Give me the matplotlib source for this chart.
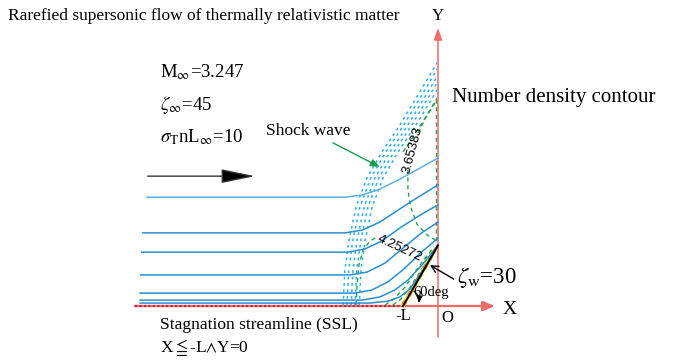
import matplotlib.pyplot as plt
from matplotlib.patches import Rectangle

plt.rcParams['font.family'] = ['Liberation Serif', 'DejaVu Serif']
plt.rcParams['mathtext.fontset'] = 'stix'

# all lengths in units of L (wedge base), origin O on the wedge back face
# streamlines coming from the left
stream_x = [
    [-8.31, -2.66, -2.17, -1.66, -1.14, -0.57, 0.0],
    [-8.43, -2.66, -2.17, -1.66, -1.14, -0.57, 0.0],
    [-8.46, -2.57, -2.09, -1.60, -1.09, -0.51, 0.0],
    [-8.49, -2.51, -2.03, -1.51, -1.03, -0.51, 0.0],
    [-8.51, -2.37, -1.89, -1.43, -0.97, -0.51, 0.0],
    [-8.51, -2.17, -1.66, -1.23, -0.86, -0.46, -0.06],
    [-8.51, -1.94, -1.43, -1.09, -0.80, -0.37, -0.03],
]
stream_y = [
    [3.11, 3.11, 3.17, 3.34, 3.60, 3.91, 4.23],
    [2.09, 2.09, 2.17, 2.40, 2.74, 3.11, 3.46],
    [1.54, 1.54, 1.63, 1.86, 2.23, 2.60, 2.89],
    [0.89, 0.89, 0.97, 1.23, 1.63, 2.06, 2.40],
    [0.37, 0.37, 0.46, 0.69, 1.06, 1.51, 1.94],
    [0.17, 0.17, 0.26, 0.46, 0.74, 1.17, 1.66],
    [0.086, 0.086, 0.14, 0.26, 0.49, 1.12, 1.70],
]

# shock layer (low density contours), upstream edge and spacing of the lines
shock_x = [-2.71, -2.66, -2.54, -2.34, -2.03, -1.60, -1.09, -0.57, 0.06]
shock_y = [0.03, 1.03, 1.89, 2.83, 3.66, 4.40, 5.17, 6.03, 7.09]
shock_shift = [0.0, 0.11, 0.23, 0.34, 0.46]

# labelled density contours
c365_upper_x = [-0.57, -0.34, -0.03]
c365_upper_y = [4.94, 5.40, 5.89]
c365_lower_x = [-0.86, -0.86, -0.77, -0.60, -0.31, -0.03]
c365_lower_y = [3.89, 3.31, 2.80, 2.34, 2.03, 1.86]
c425_left_x = [-2.34, -2.31, -2.26, -2.14, -1.94, -1.74]
c425_left_y = [0.03, 0.60, 1.17, 1.60, 1.86, 1.97]
c425_right_x = [-0.40, -0.23, -0.06]
c425_right_y = [1.34, 1.49, 1.63]
axis_contour_x = [-0.06, -0.06]
axis_contour_y = [5.90, 1.75]

# high density contours near the wedge
near_wall_x = [[-1.51, -1.23, -0.94, -0.66, -0.37, -0.11],
               [-1.29, -1.09, -0.83, -0.57, -0.31, -0.09]]
near_wall_y = [[0.03, 0.23, 0.54, 0.97, 1.37, 1.69],
               [0.03, 0.17, 0.49, 0.89, 1.31, 1.63]]
wall_layer_x = [-0.99, -0.12]
wall_layer_y = [0.04, 1.55]

# wedge (60 deg)
wedge_x = [-1.0, 0.0]
wedge_y = [0.0, 1.732]

fig = plt.figure(figsize=(6.81, 3.6), dpi=100)
ax = fig.add_axes([0, 0, 1, 1])
ax.set_xlim(-12.51, 6.94)
ax.set_ylim(-1.54, 8.74)
ax.axis('off')

red = '#f06a6a'
cyan = '#2ab2e6'
green = '#28a550'
blue = '#2a8fd2'

# axes
ax.plot([-8.66, 1.45], [0, 0], color=red, lw=1.6, zorder=2)
ax.plot([-8.66, -1.0], [0, 0], color='#c02a45', lw=1.6, ls=(0, (1, 1)), zorder=3)
ax.annotate('', xy=(1.62, 0), xytext=(1.2, 0),
            arrowprops=dict(arrowstyle='-|>,head_length=0.7,head_width=0.3',
                            mutation_scale=10, color=red, lw=1.6,
                            shrinkA=0, shrinkB=0))
ax.annotate('', xy=(0, 7.94), xytext=(0, -0.89),
            arrowprops=dict(arrowstyle='-|>,head_length=0.7,head_width=0.25',
                            mutation_scale=10, color=red, lw=1.1,
                            shrinkA=0, shrinkB=0))

clip = Rectangle((-12.6, -1.6), 12.58, 10.5, transform=ax.transData)

for k, dx in enumerate(shock_shift):
    line, = ax.plot([x + dx for x in shock_x], shock_y, color=cyan, lw=1.1,
                    ls=(0, (1.8, 2.4)), zorder=4)
    line.set_clip_path(clip)
line, = ax.plot([x + 0.6 for x in shock_x[5:]], shock_y[5:], color=green,
                lw=1.0, ls=(0, (3, 2.5)), zorder=4)
line.set_clip_path(clip)

for xs, ys in [(c365_upper_x, c365_upper_y), (c365_lower_x, c365_lower_y),
               (c425_left_x, c425_left_y), (c425_right_x, c425_right_y),
               (axis_contour_x, axis_contour_y)]:
    ax.plot(xs, ys, color=green, lw=1.0, ls=(0, (3, 2.5)), zorder=4)
for xs, ys in zip(near_wall_x, near_wall_y):
    ax.plot(xs, ys, color=green, lw=1.0, ls=(0, (3, 2.5)), zorder=4)

ax.plot(wall_layer_x, wall_layer_y, color='#ffe020', lw=3, zorder=5)
ax.plot(wall_layer_x, wall_layer_y, color='#f08a10', lw=3, ls=(0, (1, 1.5)), zorder=5)

for k, (xs, ys) in enumerate(zip(stream_x, stream_y)):
    ax.plot(xs, ys, color='#5cb0e2' if k == 0 else blue, lw=1.1, zorder=6)

ax.plot(wedge_x, wedge_y, color='black', lw=1.4, zorder=7)

# contour labels
ax.text(-0.71, 4.45, '3.65383', family='Liberation Sans', fontsize=9.5,
        rotation=75, ha='center', va='center', zorder=8)
ax.text(-1.09, 1.66, '4.25272', family='Liberation Sans', fontsize=9.5,
        rotation=-25, ha='center', va='center', zorder=8)

# annotations
ax.text(-12.29, 8.29, 'Rarefied supersonic flow of thermally relativistic matter',
        fontsize=12.5, va='center')
ax.text(0.0, 8.28, 'Y', fontsize=12, ha='center', va='center')
ax.text(-7.94, 6.54, r'M$_{\infty}$=3.247', fontsize=13.5)
ax.text(-7.94, 5.60, r'$\zeta_{\infty}$=45', fontsize=13.5)
ax.text(-7.94, 4.69, r'$\sigma_{\rm T}$nL$_{\infty}$=10', fontsize=13.5)
ax.annotate('', xy=(-5.23, 3.71), xytext=(-8.29, 3.71),
            arrowprops=dict(arrowstyle='-|>,head_length=1.4,head_width=0.29',
                            mutation_scale=15, fc='black', ec='#333333', lw=1.0,
                            shrinkA=0, shrinkB=0))
ax.text(-4.9, 5.0, 'Shock wave', fontsize=12.5, va='center')
ax.annotate('', xy=(-1.66, 3.97), xytext=(-3.0, 4.66),
            arrowprops=dict(arrowstyle='-|>,head_length=0.55,head_width=0.22',
                            mutation_scale=10, color='#1a9c4a', lw=1.0,
                            shrinkA=0, shrinkB=0))
ax.text(0.4, 5.83, 'Number density contour', fontsize=15)
ax.text(0.55, 0.66, r'$\zeta_{\rm w}$=30', fontsize=16.5)
ax.annotate('', xy=(-0.23, 1.17), xytext=(0.45, 0.77),
            arrowprops=dict(arrowstyle='->,head_length=0.5,head_width=0.25',
                            mutation_scale=10, color='black', lw=1.0,
                            shrinkA=0, shrinkB=0))
ax.text(-0.71, 0.40, '60deg', fontsize=10.5, va='center')
ax.annotate('', xy=(-0.54, 0.086), xytext=(-0.74, 0.46),
            arrowprops=dict(arrowstyle='-|>,head_length=0.4,head_width=0.18',
                            mutation_scale=10, color='black', lw=0.9,
                            connectionstyle='arc3,rad=-0.3',
                            shrinkA=0, shrinkB=0))
ax.text(1.84, -0.09, 'X', fontsize=14, va='center')
ax.text(-1.0, -0.40, '-L', fontsize=12, ha='center')
ax.text(0.11, -0.46, 'O', fontsize=12)
ax.text(-7.94, -0.657, 'Stagnation streamline (SSL)', fontsize=12.5)
ax.text(-7.94, -1.31, r'X$\leqq$-L$\wedge$Y=0', fontsize=12.5)

fig.savefig('out.png', dpi=100)
